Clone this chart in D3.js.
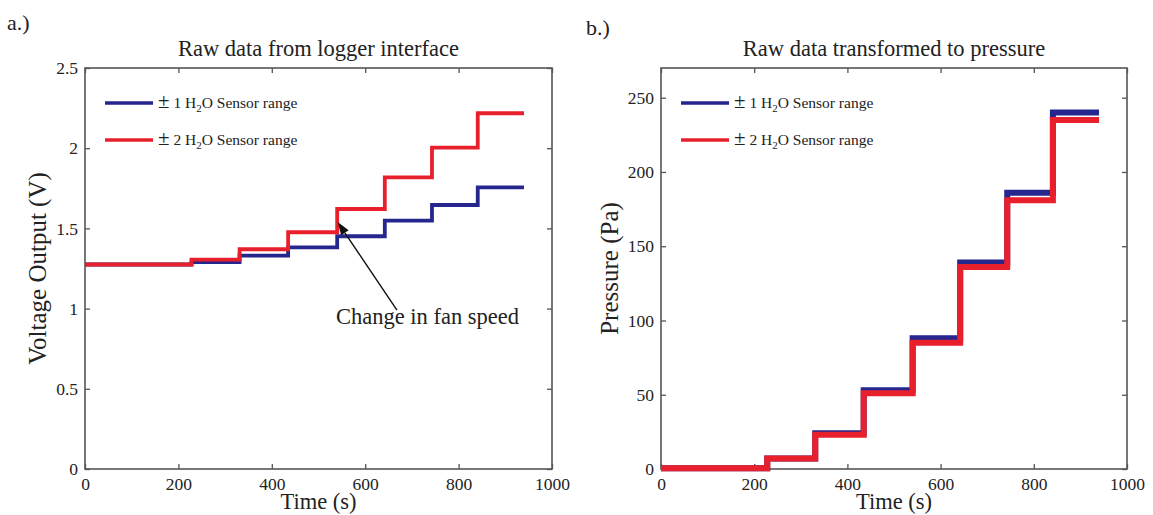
<!DOCTYPE html>
<html>
<head>
<meta charset="utf-8">
<script src="https://cdn.jsdelivr.net/npm/d3@7"></script>
<style>
body { margin: 0; background: #fff; }
svg text { font-family: "Liberation Serif", "Times New Roman", serif; fill: #222; }
</style>
</head>
<body>
<svg id="drawing_region"></svg>
<script>
// times (s) at which the fan speed was changed, and end of the log
const step_times = [0, 228, 331, 435, 540, 642, 743, 841];
const end_time = 940;

// a.) raw logger voltage (V), one level per fan speed
const volt_1h2o = [1.275, 1.29, 1.33, 1.382, 1.451, 1.548, 1.646, 1.756];
const volt_2h2o = [1.275, 1.305, 1.37, 1.476, 1.621, 1.818, 2.004, 2.218];

// b.) transformed to pressure (Pa)
const pres_1h2o = [0.5, 7, 24, 53, 88, 139, 186, 240];
const pres_2h2o = [0.5, 7, 23, 51, 85, 136, 181, 235];

const x_ticks = [0, 200, 400, 600, 800, 1000];
const volt_ticks = [0, 0.5, 1, 1.5, 2, 2.5];
const pres_ticks = [0, 50, 100, 150, 200, 250];
const volt_tick_labels = ['0', '0.5', '1', '1.5', '2', '2.5'];

const series_labels = ['1', '2'];
const colors = ['#26268f', '#e8202b'];

const svg = d3.select('#drawing_region')
    .attr('width', 1153)
    .attr('height', 515);

// turn the level arrays into step points
function toSteps(levels) {
    const pts = step_times.map((t, i) => ({ t: t, v: levels[i] }));
    pts.push({ t: end_time, v: levels[levels.length - 1] });
    return pts;
}

class StepChart {
    constructor(config) {
        this.config = config;
        this.init();
    }

    init() {
        let self = this;
        const c = self.config;
        self.chart = svg.append('g')
            .attr('transform', `translate(${c.left}, ${c.top})`);

        self.xscale = d3.scaleLinear().domain([0, 1000]).range([0, c.width]);
        self.yscale = d3.scaleLinear().domain(c.ydomain).range([c.height, 0]);
    }

    render() {
        let self = this;
        const c = self.config;

        // ticks point inwards like matlab, on all four sides
        const xaxis = d3.axisBottom(self.xscale)
            .tickValues(x_ticks).tickFormat(d3.format('d'))
            .tickSizeInner(-5).tickSizeOuter(0).tickPadding(9);
        const yaxis = d3.axisLeft(self.yscale)
            .tickValues(c.yticks).tickFormat((d, i) => c.ylabels[i])
            .tickSizeInner(-5).tickSizeOuter(0).tickPadding(7);
        const xtop = d3.axisTop(self.xscale)
            .tickValues(x_ticks).tickFormat('').tickSizeInner(-5).tickSizeOuter(0);
        const yright = d3.axisRight(self.yscale)
            .tickValues(c.yticks).tickFormat('').tickSizeInner(-5).tickSizeOuter(0);

        const gx = self.chart.append('g').attr('transform', `translate(0, ${c.height})`).call(xaxis);
        const gy = self.chart.append('g').call(yaxis);
        const gt = self.chart.append('g').call(xtop);
        const gr = self.chart.append('g').attr('transform', `translate(${c.width}, 0)`).call(yright);

        [gx, gy, gt, gr].forEach(g => {
            g.select('.domain').remove();
            g.selectAll('line').attr('stroke', '#555').attr('stroke-width', 1.3);
            g.selectAll('text').attr('font-size', 17.5)
                .attr('font-family', '"Liberation Serif", serif').attr('fill', '#222');
        });

        self.chart.append('rect')
            .attr('width', c.width).attr('height', c.height)
            .attr('fill', 'none').attr('stroke', '#555').attr('stroke-width', 1.6);

        const line = d3.line()
            .x(d => self.xscale(d.t))
            .y(d => self.yscale(d.v))
            .curve(d3.curveStepAfter);

        c.series.forEach((s, i) => {
            self.chart.append('path')
                .datum(toSteps(s))
                .attr('fill', 'none')
                .attr('stroke', colors[i])
                .attr('stroke-width', c.lineWidth)
                .attr('d', line);
        });

        // legend
        series_labels.forEach((lab, i) => {
            const ly = 35 + i * 37;
            self.chart.append('line')
                .attr('x1', 20).attr('x2', 68).attr('y1', ly).attr('y2', ly)
                .attr('stroke', colors[i]).attr('stroke-width', 3.5);
            const t = self.chart.append('text').attr('x', 73).attr('y', ly + 5);
            t.append('tspan').attr('font-size', 21).text('±');
            t.append('tspan').attr('font-size', 15.5).text(' ' + lab + ' H');
            t.append('tspan').attr('font-size', 11).attr('dy', 4).text('2');
            t.append('tspan').attr('font-size', 15.5).attr('dy', -4).text('O Sensor range');
        });

        // titles and labels
        svg.append('text')
            .attr('x', c.left + c.width / 2).attr('y', 56)
            .attr('text-anchor', 'middle').attr('font-size', 22.5)
            .text(c.title);
        svg.append('text')
            .attr('x', c.panelX).attr('y', c.panelY)
            .attr('font-size', 22).text(c.panel);
        svg.append('text')
            .attr('x', c.left + c.width / 2).attr('y', 509)
            .attr('text-anchor', 'middle').attr('font-size', 22.5)
            .text('Time (s)');
        svg.append('text')
            .attr('transform', `translate(${c.ylabelX}, ${c.top + c.height / 2}) rotate(-90)`)
            .attr('text-anchor', 'middle').attr('font-size', 25)
            .text(c.ylabel);
    }

    annotate(text, tip, tail) {
        let self = this;
        const x1 = self.xscale(tail[0]), y1 = self.yscale(tail[1]);
        const x2 = self.xscale(tip[0]), y2 = self.yscale(tip[1]);
        const ang = Math.atan2(y2 - y1, x2 - x1);
        const hl = 13, hw = 4.5;
        const bx = x2 - hl * Math.cos(ang), by = y2 - hl * Math.sin(ang);
        self.chart.append('line')
            .attr('x1', x1).attr('y1', y1).attr('x2', bx).attr('y2', by)
            .attr('stroke', '#111').attr('stroke-width', 1.4);
        self.chart.append('path')
            .attr('d', `M${x2},${y2}L${bx - hw * Math.sin(ang)},${by + hw * Math.cos(ang)}L${bx + hw * Math.sin(ang)},${by - hw * Math.cos(ang)}Z`)
            .attr('fill', '#111');
        self.chart.append('text')
            .attr('x', self.xscale(tail[0]) - 61).attr('y', self.yscale(tail[1]) + 14)
            .attr('font-size', 22.5)
            .text(text);
    }
}

const volt_chart = new StepChart({
    left: 85, top: 68, width: 467, height: 401,
    ydomain: [0, 2.5], yticks: volt_ticks, ylabels: volt_tick_labels,
    series: [volt_1h2o, volt_2h2o], lineWidth: 3.8,
    title: 'Raw data from logger interface', panel: 'a.)', panelX: 7, panelY: 30,
    ylabel: 'Voltage Output (V)', ylabelX: 46
});
volt_chart.render();
volt_chart.annotate('Change in fan speed', [541, 1.54], [668, 0.99]);

const pres_chart = new StepChart({
    left: 661, top: 68, width: 466, height: 401,
    ydomain: [0, 270], yticks: pres_ticks, ylabels: pres_ticks.map(String),
    series: [pres_1h2o, pres_2h2o], lineWidth: 6,
    title: 'Raw data transformed to pressure', panel: 'b.)', panelX: 586, panelY: 35,
    ylabel: 'Pressure (Pa)', ylabelX: 618
});
pres_chart.render();
</script>
</body>
</html>
